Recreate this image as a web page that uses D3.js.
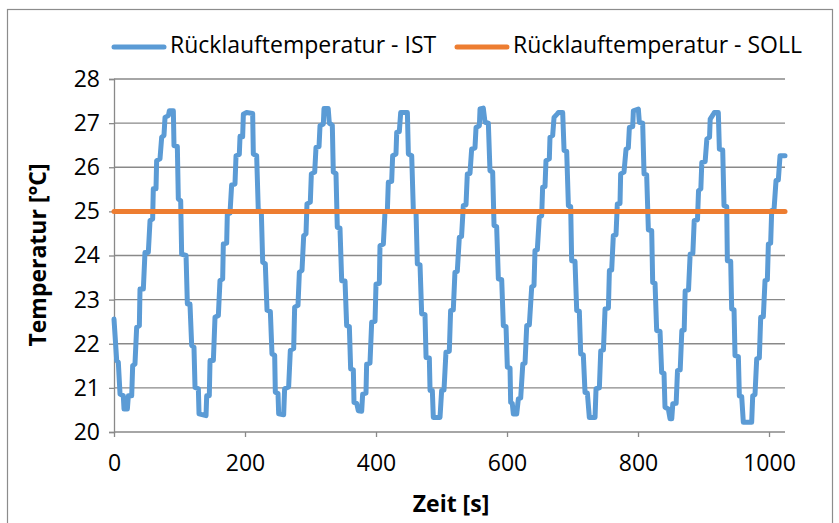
<!DOCTYPE html>
<html>
<head>
<meta charset="utf-8">
<script src="https://cdn.jsdelivr.net/npm/d3@7"></script>
<style>
  html, body { margin: 0; padding: 0; background: #fff; }
  svg { display: block; }
  text { font-family: "Open Sans", Lato, sans-serif; fill: #000; }
</style>
</head>
<body>
<svg id="chart" width="839" height="523"></svg>
<script>
// ---- data ----
const seriesNames = ["Rücklauftemperatur - IST", "Rücklauftemperatur - SOLL"];
const xTicks = [0, 200, 400, 600, 800, 1000];
const yTicks = [20, 21, 22, 23, 24, 25, 26, 27, 28];
const xTitle = "Zeit [s]";
const yTitle = "Temperatur [°C]";

const istTime = [
0,4.1,6.6,9.2,14.2,15.3,20.4,21.9,27,28.5,32,34.6,38.7,39.7,44.8,47.3,52.4,55,59,60,64.1,65.1,70.2,72.8,76.3,77.9,83,84.5,90.6,91.6,96.7,98.2,101.8,103.3,110,112,116,118.6,122.1,123.7,128.8,129.8,140.5,141.5,145.5,146.6,151.7,154.2,159.3,161.8,165.9,166.9,172,173,177.1,179.6,184.7,186.3,191.3,192.4,196.4,197.5,202.5,211.7,212.7,217.8,220.3,224.9,227,231,233.6,238.7,241.2,245.3,246.3,250.4,251.4,259,260.5,266.6,269.2,274.3,275.8,280.9,283,287,289.6,293.1,294.6,299.7,301.3,306.4,308.4,313,314.5,319.6,320.6,327,328.7,333.3,334.8,338.9,340.9,345,347.6,352.7,355.2,359.3,361.3,365.4,366.4,370.5,373,378.1,379.6,384.7,385.7,390.8,393.4,398.5,400,405.1,406.1,411.2,413.7,417.3,418.8,423.9,425.4,430.5,431.6,435.6,437.7,447.9,449.4,454.5,457,461.1,463.1,467.2,469.7,474.8,476.4,481.4,482.5,486,487.5,497.7,500.2,503.8,506.8,511.9,513.9,518,520.5,524.1,527.2,530.6,533.3,537.4,539.4,543.5,546,551.1,552.7,557.8,558.8,563.8,566.4,571.5,574,578.1,580.2,584.2,586.8,591.9,594.4,598.5,600.5,604.6,605.6,608,609.7,614.8,617.3,620.9,624.1,627.5,630.1,634.1,637.7,641.2,642.7,646.3,649.3,652.9,654.4,658,659.5,664.6,665.6,669.7,671.8,676.8,678.4,685,687.1,691.1,693.7,697.2,698.7,703.8,706.4,710.4,712.5,716.5,719.1,722.7,725.7,734.4,735.9,741,743.1,747.2,749.7,754.8,756.3,759.8,762.3,766.4,768.4,772.5,773.5,778.6,781.7,785.2,786.8,791.9,792.9,800.5,802,807.1,809.2,813.2,815.8,820.9,822.4,826,828.5,833.6,836.1,839.7,841.2,846.3,848.9,851.5,853.1,858.2,860.3,864.4,866.9,870.5,872,877.1,879.6,883.7,885.8,890.8,892.4,895.9,897.4,902.5,905.1,909.2,910.2,915.3,916.5,922.6,924.2,929.3,931.3,935.4,936.4,941.5,943,946.6,948.1,953.2,954.7,958.3,960.8,973.5,975.1,978.6,981.2,985.2,987.3,991.3,993.9,997.5,999,1002.5,1004.1,1007.6,1010.7,1014.2,1016.8,1024.4
];
const istTemp = [
22.56,21.62,21.58,20.86,20.82,20.52,20.52,20.82,20.82,21.5,21.54,22.37,22.41,23.24,23.24,24.07,24.07,24.79,24.83,25.51,25.51,26.15,26.19,26.68,26.72,27.13,27.17,27.28,27.28,26.49,26.47,25.28,25.24,24.03,24,22.9,22.9,21.96,21.92,21.01,20.98,20.41,20.37,20.82,20.82,21.62,21.62,22.6,22.64,23.43,23.47,24.26,24.28,24.94,24.96,25.6,25.62,26.26,26.29,26.7,26.69,27.2,27.24,27.22,26.3,26.26,25.02,25,23.85,23.81,22.76,22.73,21.77,21.74,20.9,20.87,20.41,20.39,20.98,21.02,21.85,21.89,22.83,22.87,23.62,23.66,24.45,24.49,25.17,25.21,25.85,25.89,26.45,26.47,26.94,26.98,27.33,27.33,27.0,26.95,25.89,25.86,24.64,24.62,23.43,23.42,22.41,22.39,21.43,21.41,20.67,20.65,20.48,20.47,20.86,20.88,21.54,21.56,22.49,22.51,23.35,23.37,24.22,24.26,24.98,25,25.66,25.68,26.26,26.3,26.79,26.81,27.24,27.24,26.3,26.26,25.02,24.98,23.81,23.79,22.68,22.66,21.69,21.68,20.94,20.94,20.33,20.33,20.94,20.95,21.81,21.83,22.75,22.77,23.62,23.64,24.41,24.43,25.13,25.15,25.85,25.86,26.41,26.44,26.9,26.94,27.32,27.34,27.02,27,25.92,25.89,24.68,24.65,23.47,23.45,22.41,22.39,21.47,21.45,20.67,20.65,20.41,20.41,20.75,20.77,21.54,21.56,22.41,22.43,23.29,23.32,24.11,24.13,24.87,24.9,25.55,25.56,26.15,26.19,26.68,26.72,27.13,27.21,27.24,27.24,26.38,26.36,25.13,25.11,23.88,23.87,22.75,22.74,21.77,21.75,20.9,20.88,20.33,20.33,20.98,21,21.84,21.86,22.79,22.81,23.66,23.67,24.45,24.47,25.17,25.18,25.85,25.89,26.41,26.44,26.9,26.92,27.28,27.32,27.02,27,25.85,25.83,24.58,24.56,23.39,23.37,22.3,22.28,21.35,21.33,20.56,20.52,20.3,20.3,20.64,20.65,21.39,21.41,22.3,22.31,23.2,23.22,24.03,24.05,24.79,24.81,25.47,25.51,26.11,26.13,26.64,26.68,27.09,27.21,27.24,27.24,26.41,26.39,25.13,25.11,23.88,23.87,22.79,22.77,21.73,21.71,20.82,20.8,20.22,20.22,20.82,20.85,21.66,21.68,22.6,22.61,23.43,23.45,24.26,24.28,25.02,25.03,25.7,25.71,26.26,26.26
];
const sollTime = [0, 1024.4];
const sollTemp = [25, 25];

const colors = ["#5B9BD5", "#ED7D31"];

// ---- layout ----
const FONT = '"Open Sans", Lato, sans-serif';
const FS = 23;
const svg = d3.select("#chart");
const plot = { left: 114, right: 785, top: 79, bottom: 432 };
const x = d3.scaleLinear().domain([0, 1024.4]).range([plot.left, plot.right]);
const y = d3.scaleLinear().domain([20, 28]).range([plot.bottom, plot.top]);
const gridColor = "#898989";

// chart border
svg.append("rect").attr("x", 7.5).attr("y", 9.5).attr("width", 825).attr("height", 530)
  .attr("fill", "none").attr("stroke", "#8c8c8c").attr("stroke-width", 1.2);

// horizontal gridlines
svg.append("g").selectAll("line").data(yTicks.filter(d => d !== 20)).join("line")
  .attr("x1", plot.left).attr("x2", plot.right)
  .attr("y1", d => y(d)).attr("y2", d => y(d))
  .attr("stroke", gridColor).attr("stroke-width", 1.3);

// y axis
const yAxis = d3.axisLeft(y).tickValues(yTicks).tickSize(5).tickPadding(9).tickFormat(d3.format("d"));
const gy = svg.append("g").attr("transform", `translate(${plot.left},0)`).call(yAxis);
gy.select(".domain").attr("stroke", gridColor).attr("stroke-width", 1.3);
gy.selectAll(".tick line").attr("stroke", gridColor).attr("stroke-width", 1.3);
gy.selectAll(".tick text").attr("font-size", FS).attr("font-family", FONT).attr("fill", "#000");

// x axis
const xAxis = d3.axisBottom(x).tickValues(xTicks).tickSize(5).tickSizeOuter(0).tickPadding(18).tickFormat(d3.format("d"));
const gx = svg.append("g").attr("transform", `translate(0,${plot.bottom})`).call(xAxis);
gx.select(".domain").attr("stroke", gridColor).attr("stroke-width", 1.3)
  .attr("d", `M${plot.left},0H${plot.right}`);
gx.selectAll(".tick line").attr("stroke", gridColor).attr("stroke-width", 1.3);
gx.selectAll(".tick text").attr("font-size", FS).attr("font-family", FONT).attr("fill", "#000");

// series
const line = d3.line().x(d => x(d[0])).y(d => y(d[1]));
const istData = istTime.map((t, i) => [t, istTemp[i]]);
const sollData = sollTime.map((t, i) => [t, sollTemp[i]]);

svg.append("path").datum(istData).attr("d", line)
  .attr("fill", "none").attr("stroke", colors[0]).attr("stroke-width", 5)
  .attr("stroke-linejoin", "round").attr("stroke-linecap", "round");
svg.append("path").datum(sollData).attr("d", line)
  .attr("fill", "none").attr("stroke", colors[1]).attr("stroke-width", 5)
  .attr("stroke-linejoin", "round").attr("stroke-linecap", "round");

// axis titles
svg.append("text").attr("x", 451).attr("y", 506)
  .attr("text-anchor", "middle").attr("dominant-baseline", "middle")
  .attr("font-size", FS).attr("font-weight", "bold").text(xTitle);
svg.append("text").attr("transform", `translate(40,255) rotate(-90)`)
  .attr("text-anchor", "middle").attr("dominant-baseline", "middle")
  .attr("font-size", FS).attr("font-weight", "bold").text(yTitle);

// legend
const legendItems = [
  { name: seriesNames[0], color: colors[0], x0: 112 },
  { name: seriesNames[1], color: colors[1], x0: 455 }
];
const lg = svg.append("g");
legendItems.forEach(it => {
  lg.append("line").attr("x1", it.x0 + 2).attr("x2", it.x0 + 52).attr("y1", 47).attr("y2", 47)
    .attr("stroke", it.color).attr("stroke-width", 5).attr("stroke-linecap", "round");
  lg.append("text").attr("x", it.x0 + 58).attr("y", 47).attr("dominant-baseline", "middle")
    .attr("font-size", FS).text(it.name);
});
</script>
</body>
</html>
